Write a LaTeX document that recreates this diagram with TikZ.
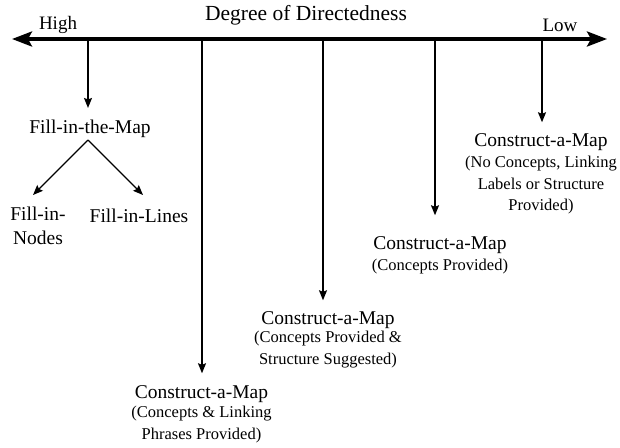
\documentclass[tikz,border=0pt]{standalone}
\usepackage{fontspec}
\setmainfont{Liberation Serif}
\usetikzlibrary{arrows.meta}
\begin{document}
\begin{tikzpicture}[x=1pt,y=-1pt,
  axisline/.style={line width=3.4pt,{Stealth[length=20pt,width=15pt,inset=4pt]}-{Stealth[length=20pt,width=15pt,inset=4pt]}},
  drop/.style={line width=1.3pt,-{Stealth[length=10pt,width=8pt,inset=1.5pt]}},
  title/.style={inner sep=0pt,font=\fontsize{19.5}{24}\selectfont,align=center},
  axislabel/.style={inner sep=0pt,font=\fontsize{19}{22}\selectfont},
  note/.style={inner sep=0pt,anchor=north,font=\fontsize{16.5}{21.5}\selectfont,align=center}]
\useasboundingbox (0,0) rectangle (620,447);

% axis
\coordinate (L) at (12,39);
\coordinate (R) at (607,39);
\draw[axisline] (L) -- (R);
\node[inner sep=0pt,font=\fontsize{21.5}{24}\selectfont] (deg) at (306,15) {Degree of Directedness};
\node[axislabel] (high) at (58,25) {High};
\node[axislabel] (low) at (560,25) {Low};

% branch points on the axis
\coordinate (a0) at (88,39);
\coordinate (a1) at (202,39);
\coordinate (a2) at (323,39);
\coordinate (a3) at (435,39);
\coordinate (a4) at (542,39);

% Fill-in-the-Map
\node[title] (fill) at (90,129) {Fill-in-the-Map};
\node[title] (fnodes) at (38,226) {Fill-in-\\Nodes};
\node[title] (flines) at (139,216) {Fill-in-Lines};
\coordinate (apex) at (88,140);
\coordinate (fnTip) at (33,195);
\coordinate (flTip) at (143,195);

% Construct-a-Map variants
\node[title] (cA) at (201.5,394) {Construct-a-Map};
\node[note] (nA) at (201.5,406) {(Concepts \& Linking\\Phrases Provided)};
\node[title] (cB) at (328,320) {Construct-a-Map};
\node[note] (nB) at (328,331) {(Concepts Provided \&\\Structure Suggested)};
\node[title] (cC) at (440,245) {Construct-a-Map};
\node[note] (nC) at (440,259) {(Concepts Provided)};
\node[title] (cD) at (541,142) {Construct-a-Map};
\node[note] (nD) at (541,156) {(No Concepts, Linking\\Labels or Structure\\Provided)};

% connectors
\draw[drop,shorten >=12pt] (a0) -- (a0 |- fill.north);
\draw[drop] (apex) -- (fnTip);
\draw[drop] (apex) -- (flTip);
\draw[drop,shorten >=12pt] (a1) -- (a1 |- cA.north);
\draw[drop,shorten >=11pt] (a2) -- (a2 |- cB.north);
\draw[drop,shorten >=21pt] (a3) -- (a3 |- cC.north);
\draw[drop,shorten >=11pt] (a4) -- (a4 |- cD.north);
\end{tikzpicture}
\end{document}
